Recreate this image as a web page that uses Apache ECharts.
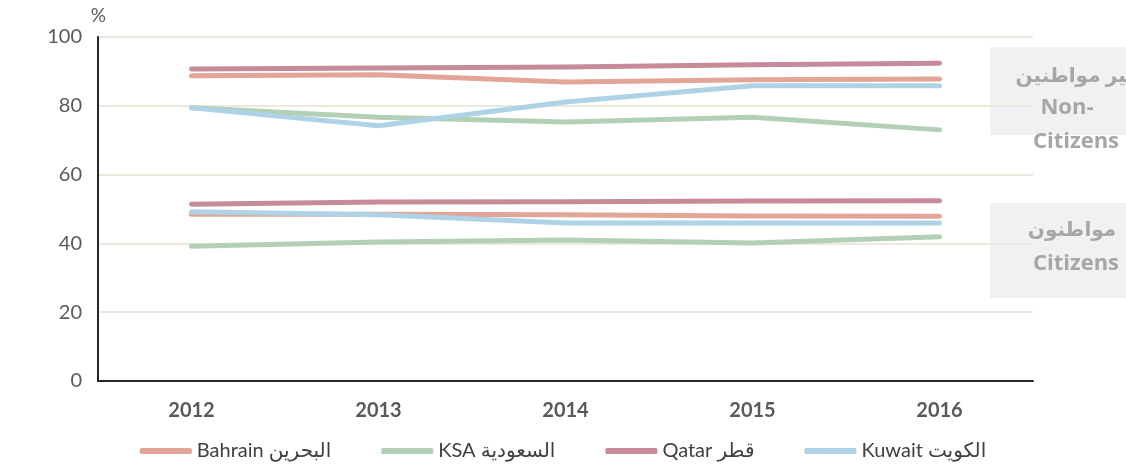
<!DOCTYPE html>
<html>
<head>
<meta charset="utf-8">
<script src="https://cdn.jsdelivr.net/npm/echarts@6/dist/echarts.min.js"></script>
<style>
  html, body { margin: 0; padding: 0; background: #fff; }
  #main { width: 1126px; height: 468px; }
</style>
</head>
<body>
<div id="main"></div>
<script>
// years on the x axis
const years = ['2012', '2013', '2014', '2015', '2016'];
const yTicks = [0, 20, 40, 60, 80, 100];

// non-citizens share (%)
const bahrainNon = [88.7, 89.0, 86.9, 87.6, 87.8];
const ksaNon     = [79.4, 76.7, 75.3, 76.7, 73.0];
const qatarNon   = [90.7, 91.0, 91.3, 91.9, 92.4];
const kuwaitNon  = [79.4, 74.2, 81.1, 85.8, 85.8];

// citizens share (%)
const bahrainCit = [48.5, 48.5, 48.3, 48.0, 47.9];
const ksaCit     = [39.2, 40.4, 41.0, 40.1, 41.9];
const qatarCit   = [51.4, 52.0, 52.1, 52.3, 52.4];
const kuwaitCit  = [49.2, 48.3, 45.9, 45.9, 45.9];

const names = ['Bahrain البحرين', 'KSA السعودية', 'Qatar قطر', 'Kuwait الكويت'];
const colors = ['#E3A598', '#B3CFB5', '#C78A99', '#AED3E6'];

const font = 'Lato, "DejaVu Sans", sans-serif';
const sideFont = '"Open Sans", "DejaVu Sans", sans-serif';

const mk = (name, color, data) => ({
  name: name,
  type: 'line',
  data: data,
  symbol: 'none',
  color: color,
  lineStyle: { width: 5, color: color, cap: 'round', join: 'round' },
  z: 2
});

// side label text
const sideText = (x, y, text, align, size) => ({
  type: 'text', x: x, y: y, z: 5,
  style: {
    text: text, fill: '#A6A6A6', font: 'bold ' + (size || 22) + 'px ' + sideFont,
    textAlign: align || 'center', textVerticalAlign: 'middle'
  }
});

const chart = echarts.init(document.getElementById('main'));
chart.setOption({
  animation: false,
  grid: { left: 98, right: 93, top: 37, bottom: 87 },
  legend: {
    data: names,
    bottom: 2,
    left: 'center',
    itemWidth: 52,
    itemHeight: 6,
    itemGap: 50,
    icon: 'roundRect',
    textStyle: { fontSize: 20, color: '#404040', fontFamily: font }
  },
  xAxis: {
    type: 'category',
    data: years,
    boundaryGap: true,
    axisLine: { lineStyle: { color: '#262626', width: 2 } },
    axisTick: { show: false },
    axisLabel: { fontSize: 20, fontWeight: 'bold', color: '#595959', margin: 20, fontFamily: font }
  },
  yAxis: {
    type: 'value',
    min: yTicks[0],
    max: yTicks[yTicks.length - 1],
    interval: 20,
    name: '%',
    nameGap: 12,
    nameTextStyle: { fontSize: 19, color: '#595959', align: 'right', padding: [0, -8, 0, 0], fontFamily: font },
    axisLine: { show: true, lineStyle: { color: '#262626', width: 2 } },
    axisTick: { show: false },
    axisLabel: { fontSize: 20, color: '#595959', margin: 16, fontFamily: font },
    splitLine: { lineStyle: { color: '#EAEADF', width: 2 } }
  },
  graphic: [
    { type: 'rect', left: 990, top: 47, shape: { width: 140, height: 88 }, style: { fill: '#F1F1F3' }, z: 0 },
    { type: 'rect', left: 990, top: 203, shape: { width: 140, height: 95 }, style: { fill: '#F1F1F3' }, z: 0 },
    sideText(1140, 76, 'غير مواطنين', 'right', 20),
    sideText(1067, 108, 'Non-'),
    sideText(1076, 142, 'Citizens'),
    sideText(1072, 230, 'مواطنون', 'center', 20),
    sideText(1076, 264, 'Citizens')
  ],
  series: [
    mk(names[0], colors[0], bahrainNon),
    mk(names[1], colors[1], ksaNon),
    mk(names[2], colors[2], qatarNon),
    mk(names[3], colors[3], kuwaitNon),
    mk(names[0], colors[0], bahrainCit),
    mk(names[1], colors[1], ksaCit),
    mk(names[2], colors[2], qatarCit),
    mk(names[3], colors[3], kuwaitCit)
  ]
});
</script>
</body>
</html>
